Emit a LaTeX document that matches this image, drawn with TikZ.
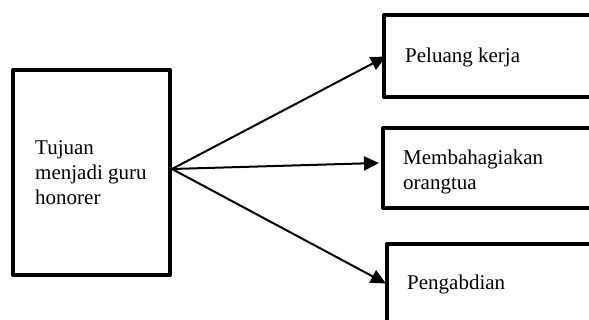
\documentclass[tikz,border=0pt]{standalone}
\usepackage{fontspec}
\setmainfont{Liberation Serif}
\usetikzlibrary{arrows.meta}
\begin{document}
\begin{tikzpicture}[x=1pt,y=-1pt,
  box/.style={draw=black,line width=4pt,rectangle,inner sep=0pt,
    line join=round},
  lbl/.style={inner sep=0pt,anchor=base west,align=left,
    font=\fontsize{21}{25}\selectfont},
  link/.style={line width=2pt,-{Triangle[length=15pt,width=14pt]},
    shorten >=-1pt}]
\useasboundingbox (0,0) rectangle (589,320);
\begin{scope}
\clip (0,0) rectangle (589,320);
% boxes
\node[box,minimum width=157pt,minimum height=205pt] (main) at (91.5,172.5) {};
\node[box,minimum width=238pt,minimum height=82pt,anchor=west] (b1) at (382,56) {};
\node[box,minimum width=239pt,minimum height=80pt,anchor=west] (b2) at (381,168) {};
\node[box,minimum width=235pt,minimum height=98pt,anchor=north west] (b3) at (385,242) {};
\end{scope}
% texts (base anchor sits on the last line)
\node[lbl] (t0) at (35,205) {Tujuan\\menjadi guru\\honorer};
\node[lbl] (t1) at (405,63) {Peluang kerja};
\node[lbl] (t2) at (403,190) {Membahagiakan\\orangtua};
\node[lbl] (t3) at (407,290) {Pengabdian};
% connectors
\coordinate (hub) at (172,169);
\coordinate (e1) at (385,57);
\coordinate (e2) at (378,163);
\coordinate (e3) at (385,283);
\draw[link] (hub) -- (e1);
\draw[link] (hub) -- (e2);
\draw[link] (hub) -- (e3);
\end{tikzpicture}
\end{document}
